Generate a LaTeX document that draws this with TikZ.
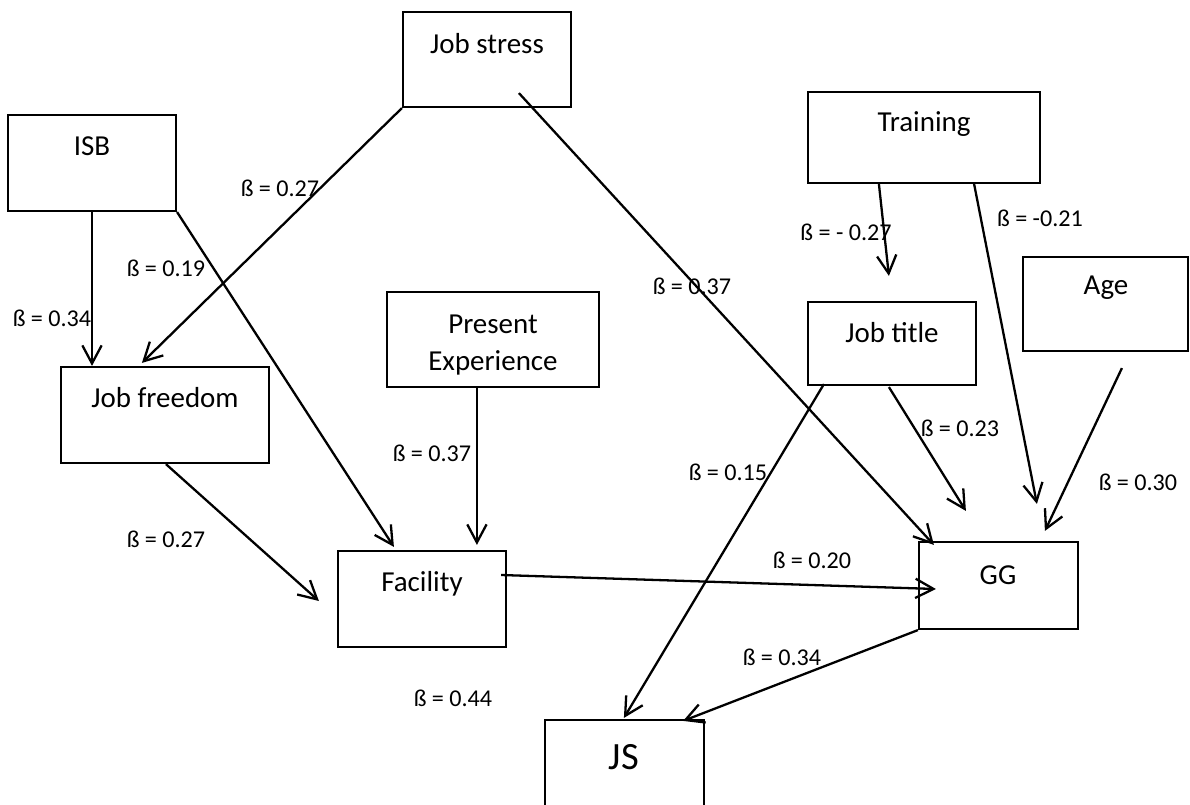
\documentclass[tikz,border=0pt]{standalone}
\usepackage{fontspec}
\setmainfont{Carlito}
\usetikzlibrary{arrows.meta,calc}
\tikzset{
  box/.style={draw=black, line width=0.9pt, inner sep=0pt, fill=none},
  boxtext/.style={font=\fontsize{12}{14.4}\selectfont, inner sep=0pt, anchor=center},
  coef/.style={font=\fontsize{10}{12}\selectfont, inner sep=0pt, anchor=center},
  link/.style={draw=black, line width=0.95pt, -{Straight Barb[length=7.5pt,width=8pt]}},
  plain/.style={draw=black, line width=0.95pt}
}
\begin{document}
\begin{tikzpicture}[x=0.4145pt, y=-0.4145pt]
\useasboundingbox (0,0) rectangle (1190,805);
\fill[white] (0,0) rectangle (1190,805);
\clip (0,0) rectangle (1190,805);
% boxes
\node[box, minimum width=168*0.4145pt, minimum height=95*0.4145pt] (jstress) at (487,59.5) {};
\node[box, minimum width=168*0.4145pt, minimum height=96*0.4145pt] (isb) at (92,163) {};
\node[box, minimum width=232*0.4145pt, minimum height=91*0.4145pt] (train) at (924,137.5) {};
\node[box, minimum width=165*0.4145pt, minimum height=94*0.4145pt] (age) at (1105.5,304) {};
\node[box, minimum width=212*0.4145pt, minimum height=95*0.4145pt] (pe) at (493,339.5) {};
\node[box, minimum width=168*0.4145pt, minimum height=83*0.4145pt] (jt) at (892,343.5) {};
\node[box, minimum width=208*0.4145pt, minimum height=96*0.4145pt] (jf) at (165,415) {};
\node[box, minimum width=168*0.4145pt, minimum height=96*0.4145pt] (fac) at (422,599) {};
\node[box, minimum width=159*0.4145pt, minimum height=87*0.4145pt] (gg) at (998.5,585.5) {};
\node[box, minimum width=159*0.4145pt, minimum height=110*0.4145pt] (jsat) at (624.5,775) {};
% box texts
\node[boxtext] (jstress-t) at (487,44) {Job stress};
\node[boxtext] (isb-t) at (92,146) {ISB};
\node[boxtext] (train-t) at (924,124) {Training};
\node[boxtext] (age-t) at (1106,288) {Age};
\node[boxtext] (pe-t1) at (493,324) {Present};
\node[boxtext] (pe-t2) at (493,363) {Experience};
\node[boxtext] (jt-t) at (892,333) {Job title};
\node[boxtext] (jf-t) at (165,398) {Job freedom};
\node[boxtext] (fac-t) at (422,584) {Facility};
\node[boxtext] (gg-t) at (998,575) {GG};
\node[font=\fontsize{16}{19}\selectfont, inner sep=0pt] (jsat-t) at (624,757) {JS};
% connectors
\draw[link] (jstress.south west) -- ($(jf.north west)+(82,-3)$);
\draw[link] ($(jstress.south west)+(117,-15)$) -- ($(gg.north west)+(16,4)$);
\draw[link] (isb.south) -- (isb.south |- jf.north);
\draw[link] (isb.south east) -- ($(fac.north west)+(57,-3)$);
\draw[link] ($(train.south west)+(72,0)$) -- ($(jt.north west)+(82,-25)$);
\draw[link] ($(train.south west)+(167,-1)$) -- ($(gg.north west)+(119,-37)$);
\draw[link] ($(age.south west)+(100,16)$) -- ($(gg.north west)+(127,-10)$);
\draw[link] ($(jt.south west)+(82,1)$) -- ($(gg.north west)+(48,-30)$);
\draw[link] ($(jt.south west)+(17,-2)$) -- ($(jsat.north west)+(80,-1)$);
\draw[link] ($(pe.south west)+(91,0)$) -- ($(fac.north west)+(140,-5)$);
\draw[link] ($(jf.south west)+(106,0)$) -- ($(fac.west)+(-18,2)$);
\draw[link] ($(fac.east)+(-6,-24)$) -- ($(gg.west)+(18,3.5)$);
\draw[link] (gg.south west) -- ($(jsat.north east)+(-22,2)$);
% coefficients
\node[coef] (l1) at (280,188) {ß = 0.27};
\node[coef] (l2) at (166,268) {ß = 0.19};
\node[coef] (l3) at (52,318) {ß = 0.34};
\node[coef] (l4) at (692,286) {ß = 0.37};
\node[coef] (l5) at (846,232) {ß = - 0.27};
\node[coef] (l6) at (1040,218) {ß = -0.21};
\node[coef] (l7) at (432,453) {ß = 0.37};
\node[coef] (l8) at (166,539) {ß = 0.27};
\node[coef] (l9) at (453,698) {ß = 0.44};
\node[coef] (l10) at (960,428) {ß = 0.23};
\node[coef] (l11) at (728,472) {ß = 0.15};
\node[coef] (l12) at (812,560) {ß = 0.20};
\node[coef] (l13) at (1138,482) {ß = 0.30};
\node[coef] (l14) at (782,657) {ß = 0.34};
\end{tikzpicture}
\end{document}
